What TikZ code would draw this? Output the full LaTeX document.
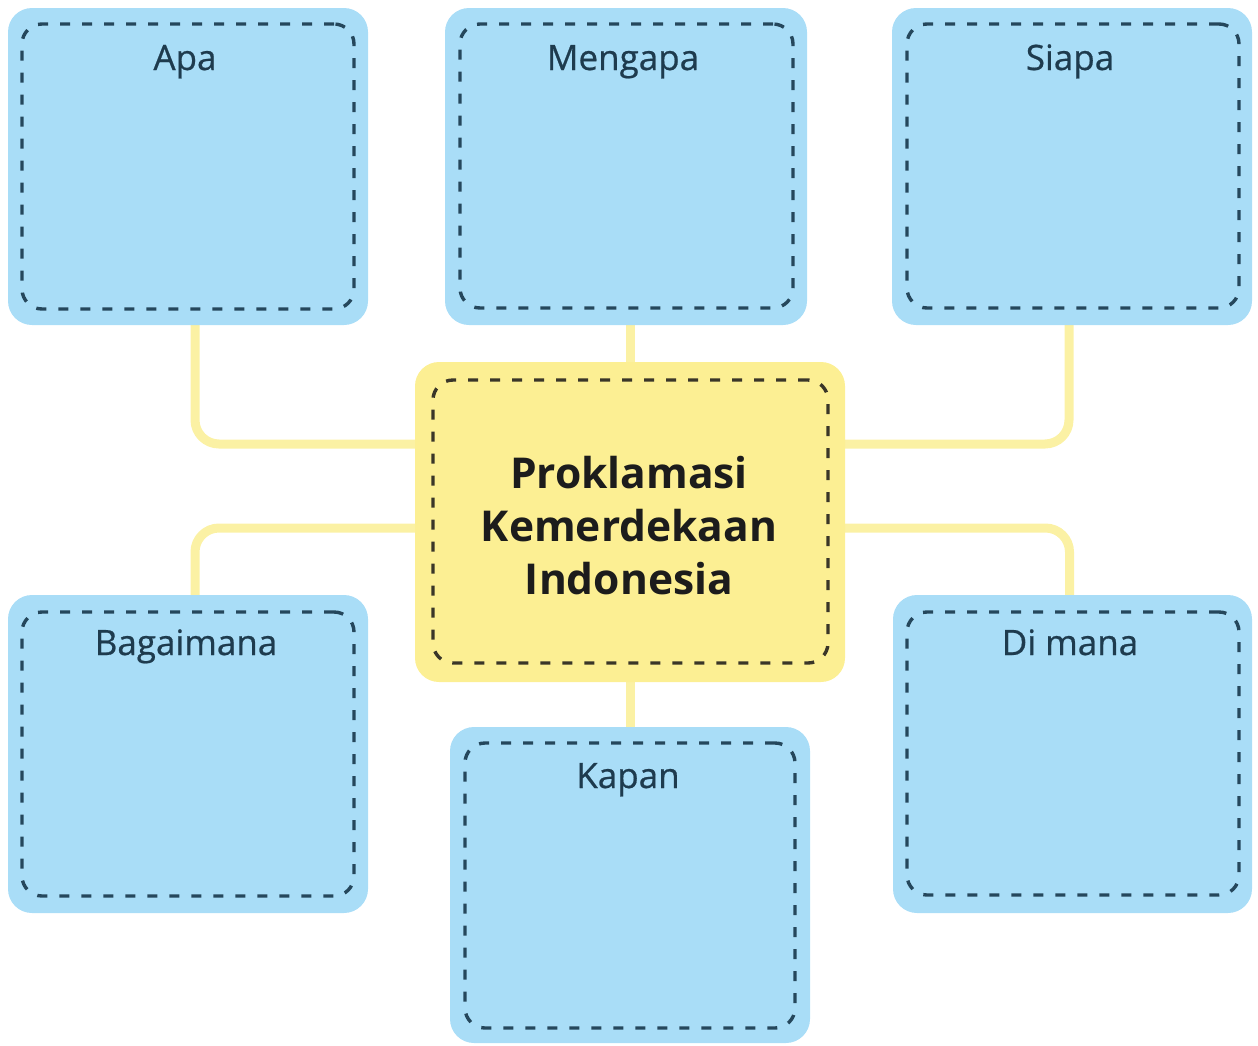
\documentclass[tikz,border=0pt]{standalone}
\usepackage{fontspec}
\setmainfont{Open Sans}
\newfontfamily\lblfont[FakeBold=0.6]{Open Sans}
\usetikzlibrary{backgrounds}
\definecolor{boxblue}{HTML}{A9DDF7}
\definecolor{boxyellow}{HTML}{FCEF93}
\definecolor{connyellow}{HTML}{FBF1A4}
\definecolor{dashblue}{HTML}{25475C}
\definecolor{dashdark}{HTML}{3A3628}
\definecolor{lbltext}{HTML}{1E3B4E}
\definecolor{maintext}{HTML}{1C1C1C}
\tikzset{
  outerbox/.style={rectangle, rounded corners=24pt, fill=boxblue, draw=none, inner sep=0pt},
  innerbox/.style={rectangle, rounded corners=20pt, draw=dashblue, line width=3.4pt,
     dash pattern=on 10pt off 12pt, inner sep=0pt},
  centerbox/.style={outerbox, fill=boxyellow},
  centerinner/.style={innerbox, draw=dashdark},
  lbl/.style={anchor=base, text=lbltext, font=\lblfont\fontsize{35}{42}\selectfont, inner sep=0pt},
  maintitle/.style={align=center, text=maintext, font=\fontsize{42.5}{53}\selectfont\bfseries, inner sep=0pt},
  conn/.style={draw=connyellow, line width=9pt, rounded corners=24pt}
}
\begin{document}
\begin{tikzpicture}[x=1pt,y=-1pt]
\useasboundingbox (0,0) rectangle (1258,1045);

% outer boxes
\node[outerbox, minimum width=360pt, minimum height=317pt] (apa) at (188,166.5) {};
\node[outerbox, minimum width=362pt, minimum height=317pt] (mengapa) at (626,166.5) {};
\node[outerbox, minimum width=360pt, minimum height=317pt] (siapa) at (1072,166.5) {};
\node[outerbox, minimum width=360pt, minimum height=318pt] (bagaimana) at (188,754) {};
\node[outerbox, minimum width=359pt, minimum height=318pt] (dimana) at (1072.5,754) {};
\node[outerbox, minimum width=360pt, minimum height=316pt] (kapan) at (630,885) {};
\node[centerbox, minimum width=430pt, minimum height=320pt] (center) at (630,522) {};

% inner dashed borders
\node[innerbox, minimum width=332pt, minimum height=285pt] (apa-in) at (188,166.5) {};
\node[innerbox, minimum width=333pt, minimum height=284pt] (mengapa-in) at (626.5,166) {};
\node[innerbox, minimum width=332pt, minimum height=284pt] (siapa-in) at (1073,166) {};
\node[innerbox, minimum width=332pt, minimum height=284pt] (bagaimana-in) at (188,754) {};
\node[innerbox, minimum width=332pt, minimum height=283pt] (dimana-in) at (1073,753.5) {};
\node[innerbox, minimum width=330pt, minimum height=285pt] (kapan-in) at (630,885.5) {};
\node[centerinner, minimum width=395pt, minimum height=283pt] (center-in) at (630.5,521.5) {};

% labels
\node[lbl] (apa-t) at (185,70) {Apa};
\node[lbl] (mengapa-t) at (623,70) {Mengapa};
\node[lbl] (siapa-t) at (1070,70) {Siapa};
\node[lbl] (bagaimana-t) at (186,655) {Bagaimana};
\node[lbl] (dimana-t) at (1070,655) {Di mana};
\node[lbl] (kapan-t) at (628,788) {Kapan};
\node[maintitle] (center-t) at (629,526) {Proklamasi\\Kemerdekaan\\Indonesia};

% connectors
\begin{scope}[on background layer]
\draw[conn] ([xshift=7pt]apa.south) |- ([yshift=78pt]center.west);
\draw[conn] ([xshift=-3pt]siapa.south) |- ([yshift=78pt]center.east);
\draw[conn] ([yshift=-6pt]center.west) -| ([xshift=7pt]bagaimana.north);
\draw[conn] ([yshift=-6pt]center.east) -| ([xshift=-3pt]dimana.north);
\draw[conn] (center.north) -- (center.north |- mengapa.south);
\draw[conn] (center.south) -- (center.south |- kapan.north);
\end{scope}
\end{tikzpicture}
\end{document}
